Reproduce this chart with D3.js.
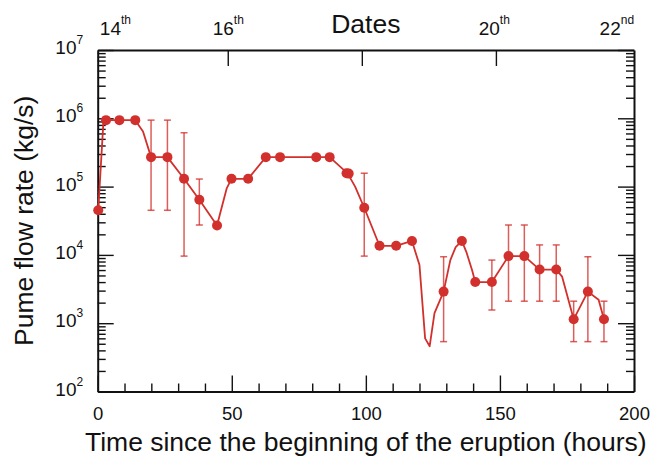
<!DOCTYPE html>
<html>
<head>
<meta charset="utf-8">
<script src="https://cdn.jsdelivr.net/npm/d3@7"></script>
<style>
  body { margin: 0; background: #fff; }
  #chart { width: 653px; height: 457px; }
  svg text { font-family: "Liberation Sans", Arial, Helvetica, sans-serif; fill: #111; }
</style>
</head>
<body>
<div id="chart"></div>
<script>
// Sampled estimates (hours since eruption start, plume flow rate kg/s)
const pointHours = [0.2, 3.1, 8.1, 14.0, 19.9, 26.0, 32.2, 37.9, 44.5, 49.9, 56.1, 62.7, 68.0, 81.5, 86.5,
  92.8, 93.6, 99.4, 105.1, 111.3, 117.2, 129.0, 135.8, 140.8, 147.0, 153.2, 159.1, 164.8, 171.0, 177.5, 182.8, 188.8];
const pointFlow = [4.5e4, 9.4e5, 9.4e5, 9.4e5, 2.7e5, 2.7e5, 1.3e5, 6.4e4, 2.7e4, 1.3e5, 1.3e5, 2.7e5, 2.7e5, 2.7e5, 2.7e5,
  1.57e5, 1.55e5, 4.9e4, 1.36e4, 1.36e4, 1.6e4, 2.9e3, 1.6e4, 4.0e3, 4.0e3, 9.6e3, 9.6e3, 6.1e3, 6.1e3, 1.14e3, 2.9e3, 1.14e3];
// Error bars (null = none)
const errLow = [null, null, null, null, 4.5e4, 4.5e4, 9.6e3, 2.74e4, null, null, null, null, null, null, null,
  null, null, 9.6e3, null, null, null, 537, null, null, 1.56e3, 2.1e3, 2.1e3, 2.1e3, 2.1e3, 537, 537, 537];
const errHigh = [null, null, null, null, 9.4e5, 9.4e5, 6.15e5, 1.29e5, null, null, null, null, null, null, null,
  null, null, 1.57e5, null, null, null, 9.4e3, null, null, 8.4e3, 2.74e4, 2.74e4, 1.4e4, 1.4e4, 2.1e3, 9.4e3, 2.1e3];

// Continuous curve (finer than the markers)
const lineHours = [0.2, 2.1, 3.1, 8.1, 14.0, 16.9, 19.9, 26.0, 32.2, 37.9, 44.5, 45.7, 48.1, 49.9, 56.1, 62.7, 68.0, 81.5, 86.5,
  93.2, 96.0, 99.4, 105.1, 111.3, 117.2, 120.0, 122.1, 123.8, 125.6, 129.0, 131.5, 133.5, 135.8, 137.5, 139.6, 140.8, 147.0, 153.2, 159.1,
  164.8, 171.0, 173.2, 177.5, 182.8, 186.8, 188.8];
const lineFlow = [4.5e4, 8.5e5, 9.4e5, 9.4e5, 9.4e5, 6.4e5, 2.7e5, 2.7e5, 1.3e5, 6.4e4, 2.7e4, 4.1e4, 9.4e4, 1.3e5, 1.3e5, 2.7e5, 2.7e5, 2.7e5, 2.7e5,
  1.56e5, 1.0e5, 4.9e4, 1.36e4, 1.36e4, 1.6e4, 7.1e3, 6.0e2, 4.6e2, 1.4e3, 2.9e3, 8.4e3, 1.3e4, 1.6e4, 1.1e4, 6.0e3, 4.0e3, 4.0e3, 9.6e3, 9.6e3,
  6.1e3, 6.1e3, 4.8e3, 1.14e3, 2.9e3, 2.2e3, 1.14e3];

// Axis ticks
const xTickValues = [0, 50, 100, 150, 200];
const xMinorTicks = [10, 20, 30, 40, 60, 70, 80, 90, 110, 120, 130, 140, 160, 170, 180, 190];
const yTickValues = [1e2, 1e3, 1e4, 1e5, 1e6, 1e7];
const dateTickHours = [48.5, 98.5, 148.5];
const dateLabelHours = [6.6, 48.7, 147.9, 193.6];
const dateNumbers = ['14', '16', '20', '22'];
const dateSuffixes = ['th', 'th', 'th', 'nd'];

const RED = '#d2302c';

class FlowRateChart {
  constructor(containerId) {
    this.containerId = containerId;
    this.width = 653;
    this.height = 457;
    this.margin = { top: 50, right: 19, bottom: 65.5, left: 97.7 };
    this._initChart();
    this._renderAxes();
    this._renderData();
  }

  _initChart() {
    this.svg = d3.select(`#${this.containerId}`)
      .append('svg')
      .attr('width', this.width)
      .attr('height', this.height);

    this.x = d3.scaleLinear()
      .domain([0, 200])
      .range([this.margin.left, this.width - this.margin.right]);

    this.y = d3.scaleLog()
      .domain([1e2, 1e7])
      .range([this.height - this.margin.bottom, this.margin.top]);
  }

  _styleAxis(g, spine) {
    g.select('.domain').attr('stroke', '#111').attr('stroke-width', spine ? 2 : 0);
    g.selectAll('.tick line').attr('stroke', '#111').attr('stroke-width', 1.4);
  }

  _renderAxes() {
    const x = this.x, y = this.y;
    const bottom = this.height - this.margin.bottom;
    const right = this.width - this.margin.right;
    const minorY = y.ticks().filter(v => !yTickValues.includes(v));

    // bottom: minor then major
    this.svg.append('g')
      .attr('transform', `translate(0,${bottom})`)
      .call(d3.axisBottom(x).tickValues(xMinorTicks).tickSize(-8).tickSizeOuter(0).tickFormat(''))
      .call(g => this._styleAxis(g, false));
    const xAxis = this.svg.append('g')
      .attr('transform', `translate(0,${bottom})`)
      .call(d3.axisBottom(x).tickValues(xTickValues).tickSize(-16).tickSizeOuter(0))
      .call(g => this._styleAxis(g, true));
    xAxis.selectAll('text')
      .attr('y', 28).attr('dy', 0)
      .attr('font-size', '18.5px');

    // left axis with 10^n labels
    this.svg.append('g')
      .attr('transform', `translate(${x(0)},0)`)
      .call(d3.axisLeft(y).tickValues(minorY).tickSize(-8).tickSizeOuter(0).tickFormat(''))
      .call(g => this._styleAxis(g, false));
    const yAxis = this.svg.append('g')
      .attr('transform', `translate(${x(0)},0)`)
      .call(d3.axisLeft(y).tickValues(yTickValues).tickSize(-16).tickSizeOuter(0).tickFormat(''))
      .call(g => this._styleAxis(g, true));
    yAxis.selectAll('.tick text').each(function (d) {
      const t = d3.select(this)
        .attr('x', -14.5).attr('dy', 3.5)
        .attr('text-anchor', 'end')
        .attr('font-size', '19px');
      t.append('tspan').text('10');
      t.append('tspan').attr('dy', -10).attr('font-size', '12px').text(Math.round(Math.log10(d)));
    });

    // right axis, ticks only
    this.svg.append('g')
      .attr('transform', `translate(${right},0)`)
      .call(d3.axisRight(y).tickValues(minorY).tickSize(-8).tickSizeOuter(0).tickFormat(''))
      .call(g => this._styleAxis(g, false));
    this.svg.append('g')
      .attr('transform', `translate(${right},0)`)
      .call(d3.axisRight(y).tickValues(yTickValues).tickSize(-16).tickSizeOuter(0).tickFormat(''))
      .call(g => this._styleAxis(g, true));

    // top axis: dates
    this.svg.append('g')
      .attr('transform', `translate(0,${this.margin.top})`)
      .call(d3.axisTop(x).tickValues(dateTickHours).tickSize(-16).tickSizeOuter(0).tickFormat(''))
      .call(g => this._styleAxis(g, true));

    const dates = this.svg.append('g').selectAll('text')
      .data(dateLabelHours)
      .join('text')
      .attr('x', d => x(d))
      .attr('y', 34.5)
      .attr('text-anchor', 'middle')
      .attr('font-size', '19px');
    dates.append('tspan').text((d, i) => dateNumbers[i]);
    dates.append('tspan').attr('dy', -11).attr('font-size', '12px').text((d, i) => dateSuffixes[i]);

    const cx = (this.margin.left + right) / 2;
    this.svg.append('text')
      .attr('x', cx).attr('y', 32.5)
      .attr('text-anchor', 'middle')
      .attr('font-size', '26.5px')
      .text('Dates');

    // sits at the very bottom edge, as in the original figure
    this.svg.append('text')
      .attr('x', cx).attr('y', 451)
      .attr('text-anchor', 'middle')
      .attr('font-size', '26.5px')
      .text('Time since the beginning of the eruption (hours)');

    this.svg.append('text')
      .attr('transform', `translate(33,${(this.margin.top + bottom) / 2}) rotate(-90)`)
      .attr('text-anchor', 'middle')
      .attr('font-size', '26.5px')
      .text('Pume flow rate (kg/s)');
  }

  _renderData() {
    const x = this.x, y = this.y;
    const idx = d3.range(pointHours.length).filter(i => errLow[i] !== null);
    const cap = 3.5;

    const err = this.svg.append('g')
      .attr('stroke', RED)
      .attr('stroke-opacity', 0.78)
      .attr('stroke-width', 1.5);
    err.selectAll('.err-v').data(idx).join('line')
      .attr('x1', i => x(pointHours[i])).attr('x2', i => x(pointHours[i]))
      .attr('y1', i => y(errLow[i])).attr('y2', i => y(errHigh[i]));
    err.selectAll('.err-lo').data(idx).join('line')
      .attr('x1', i => x(pointHours[i]) - cap).attr('x2', i => x(pointHours[i]) + cap)
      .attr('y1', i => y(errLow[i])).attr('y2', i => y(errLow[i]));
    err.selectAll('.err-hi').data(idx).join('line')
      .attr('x1', i => x(pointHours[i]) - cap).attr('x2', i => x(pointHours[i]) + cap)
      .attr('y1', i => y(errHigh[i])).attr('y2', i => y(errHigh[i]));

    const line = d3.line()
      .x(i => x(lineHours[i]))
      .y(i => y(lineFlow[i]));
    this.svg.append('path')
      .attr('d', line(d3.range(lineHours.length)))
      .attr('fill', 'none')
      .attr('stroke', RED)
      .attr('stroke-width', 1.8)
      .attr('stroke-linejoin', 'round');

    this.svg.append('g').selectAll('circle')
      .data(d3.range(pointHours.length))
      .join('circle')
      .attr('cx', i => x(pointHours[i]))
      .attr('cy', i => y(pointFlow[i]))
      .attr('r', 5)
      .attr('fill', RED);
  }
}

new FlowRateChart('chart');
</script>
</body>
</html>
